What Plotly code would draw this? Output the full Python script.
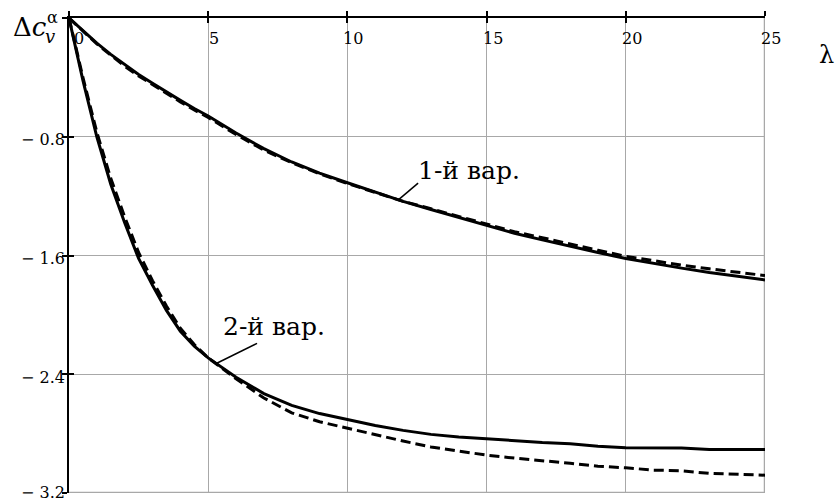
import numpy as np
import plotly.graph_objects as go

# Parameter lambda
lam = [0, 0.5, 1, 1.5, 2, 2.5, 3, 3.5, 4, 4.5, 5, 6, 7, 8, 9, 10, 11, 12, 13,
       14, 15, 16, 17, 18, 19, 20, 21, 22, 23, 24, 25]

# Variant 1: solid and dashed curves
var1_solid = [0, -0.085, -0.17, -0.245, -0.315, -0.38, -0.44, -0.5, -0.555, -0.61,
              -0.66, -0.775, -0.88, -0.97, -1.045, -1.11, -1.175, -1.235, -1.29,
              -1.345, -1.40, -1.45, -1.495, -1.54, -1.58, -1.62, -1.655, -1.685,
              -1.715, -1.74, -1.765]
var1_dash = [0, -0.09, -0.175, -0.25, -0.325, -0.39, -0.45, -0.51, -0.565, -0.62,
             -0.67, -0.785, -0.89, -0.975, -1.05, -1.115, -1.175, -1.235, -1.285,
             -1.335, -1.39, -1.44, -1.48, -1.525, -1.565, -1.605, -1.635, -1.665,
             -1.69, -1.715, -1.735]

# Variant 2: solid and dashed curves
var2_solid = [0, -0.42, -0.80, -1.12, -1.38, -1.62, -1.80, -1.97, -2.11, -2.21,
              -2.29, -2.42, -2.53, -2.61, -2.665, -2.705, -2.745, -2.778, -2.805,
              -2.822, -2.835, -2.85, -2.86, -2.868, -2.885, -2.895, -2.895, -2.897,
              -2.907, -2.907, -2.907]
var2_dash = [0, -0.40, -0.77, -1.08, -1.34, -1.58, -1.77, -1.94, -2.09, -2.20,
             -2.29, -2.43, -2.56, -2.66, -2.72, -2.765, -2.81, -2.85, -2.89,
             -2.92, -2.945, -2.965, -2.98, -3.00, -3.02, -3.03, -3.046, -3.05,
             -3.068, -3.072, -3.08]

# Axis ticks
x_ticks = [0, 5, 10, 15, 20, 25]
x_tick_text = ["0", "5", "10", "15", "20", "25"]
y_ticks = [0, -0.8, -1.6, -2.4, -3.2]
y_tick_text = ["", "\u2212 0.8", "\u2212 1.6", "\u2212 2.4", "\u2212 3.2"]

# Curve labels: text, text anchor, leader start (on curve), leader end
labels = ["1-й вар.", "2-й вар."]
label_pos = [(12.45, -1.03), (5.45, -2.08)]
leader_on_curve_x = [11.83, 5.29]
leader_end = [(12.54, -1.112), (6.755, -2.192)]

FONT = "DejaVu Serif"
GRID = "#a8a8a8"
RNG_X = [x_ticks[0], x_ticks[-1]]
RNG_Y = [y_ticks[-1], y_ticks[0]]

fig = go.Figure()

# Grey frame on the bottom and right edges, in the grid style
fig.add_trace(go.Scatter(x=[RNG_X[0], RNG_X[1], RNG_X[1]],
                         y=[RNG_Y[0], RNG_Y[0], RNG_Y[1]], mode="lines",
                         line=dict(color=GRID, width=2.5),
                         showlegend=False, hoverinfo="skip"))

for ys, dash in [(var1_dash, "10px,5px"), (var1_solid, "solid"),
                 (var2_dash, "10px,5px"), (var2_solid, "solid")]:
    fig.add_trace(go.Scatter(x=lam, y=ys, mode="lines",
                             line=dict(color="black", width=3, dash=dash),
                             showlegend=False, hoverinfo="skip"))

# Leader lines from each curve to its label
for curve, xc, (xe, ye) in zip([var1_solid, var2_solid], leader_on_curve_x, leader_end):
    yc = float(np.interp(xc, lam, curve))
    fig.add_trace(go.Scatter(x=[xc, xe], y=[yc, ye], mode="lines",
                             line=dict(color="black", width=1.5),
                             showlegend=False, hoverinfo="skip"))

annotations = []
for txt, (xa, ya) in zip(labels, label_pos):
    annotations.append(dict(x=xa, y=ya, xref="x", yref="y", text=txt, showarrow=False,
                            xanchor="left", yanchor="middle",
                            font=dict(family=FONT, size=25, color="black")))

# X tick labels just under the top axis
for v, t in zip(x_ticks, x_tick_text):
    annotations.append(dict(x=v, y=0, xref="x", yref="y", text=t, showarrow=False,
                            xanchor="center", yanchor="middle", xshift=6 if v else 10,
                            yshift=-20, font=dict(family=FONT, size=16, color="black")))

# Y tick labels left of the axis (the lowest one kept inside the page)
for v, t in zip(y_ticks, y_tick_text):
    if not t:
        continue
    annotations.append(dict(x=0, y=v, xref="x", yref="y", text=t, showarrow=False,
                            xanchor="right", yanchor="middle", xshift=-2,
                            yshift=1 if v == y_ticks[-1] else -3,
                            font=dict(family=FONT, size=16, color="black")))

# Axis titles
L, T = 68.5, 18
def paper_ann(text, px, py, size, anchor="center"):
    return dict(x=0, y=1, xref="paper", yref="paper", text=text, showarrow=False,
                xanchor=anchor, yanchor="middle", xshift=px - L, yshift=-(py - T),
                font=dict(family=FONT, size=size, color="black"))

annotations.append(paper_ann("\u0394<i>c</i>", 10, 27, 26, "left"))
annotations.append(paper_ann("\u03b1", 52, 17, 16))
annotations.append(paper_ann("<i>v</i>", 49, 36, 18))
annotations.append(paper_ann("\u03bb", 826, 55, 24))

axis_common = dict(showline=True, linecolor="black", linewidth=2, ticks="outside",
                   ticklen=5, tickcolor="black", tickwidth=1.5, showticklabels=False,
                   zeroline=False)

fig.update_layout(
    width=835, height=504,
    margin=dict(l=68.5, r=70, t=18, b=11),
    paper_bgcolor="white", plot_bgcolor="white",
    font=dict(family=FONT),
    xaxis=dict(range=RNG_X, side="top", tickvals=x_ticks, showgrid=True,
               gridcolor=GRID, gridwidth=1, **axis_common),
    yaxis=dict(range=RNG_Y, tickvals=y_ticks, showgrid=True,
               gridcolor=GRID, gridwidth=1, **axis_common),
    # second pair of axes: tick marks on the inner side of the main axes
    xaxis2=dict(range=RNG_X, overlaying="x", side="top", tickvals=x_ticks,
                ticks="inside", ticklen=5, tickcolor="black", tickwidth=1.5,
                showticklabels=False, showgrid=False, showline=False, zeroline=False),
    yaxis2=dict(range=RNG_Y, overlaying="y", side="left", tickvals=y_ticks,
                ticks="inside", ticklen=5, tickcolor="black", tickwidth=1.5,
                showticklabels=False, showgrid=False, showline=False, zeroline=False),
    annotations=annotations,
    showlegend=False,
)

# Invisible trace so the overlaying axes are drawn
fig.add_trace(go.Scatter(x=[0], y=[0], xaxis="x2", yaxis="y2", mode="markers",
                         marker=dict(opacity=0), showlegend=False, hoverinfo="skip"))

fig.write_html("out.html")
